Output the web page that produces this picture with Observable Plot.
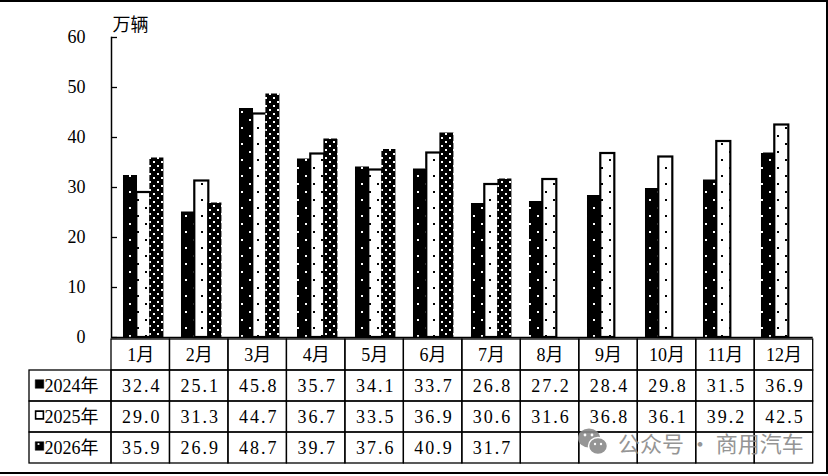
<!DOCTYPE html>
<html><head><meta charset="utf-8">
<script src="https://cdn.jsdelivr.net/npm/d3@7"></script>
<script src="https://cdn.jsdelivr.net/npm/@observablehq/plot@0.6"></script>
<style>
body{margin:0;background:#fff;}
#wrap{position:relative;width:828px;height:476px;overflow:hidden;background:#fff;}
#chart,#table{position:absolute;left:0;}
#chart{top:0;}
#table{top:337px;}
#frame{position:absolute;left:-2px;top:0;width:830px;height:474px;box-sizing:border-box;border:2px solid #000;pointer-events:none;}
#wm{position:absolute;left:577px;top:427px;display:flex;align-items:center;font-family:"Noto Sans CJK SC",sans-serif;font-size:22px;line-height:26px;color:#8a8a8a;opacity:0.9;white-space:nowrap;}
#wm svg{margin-right:9px;}
svg{overflow:visible;}
</style></head><body>
<div id="wrap"><div id="chart"></div><div id="table"></div><div id="frame"></div>
<div id="wm"><svg width="32" height="30" viewBox="0 0 32 30"><ellipse cx="12" cy="11" rx="11" ry="9.5" fill="#8a8a8a"/><ellipse cx="21" cy="19" rx="9.5" ry="8.5" fill="#8a8a8a" stroke="#fff" stroke-width="1.5"/><circle cx="8" cy="8" r="1.4" fill="#fff"/><circle cx="15" cy="8" r="1.4" fill="#fff"/><circle cx="18" cy="17" r="1.2" fill="#fff"/><circle cx="24" cy="17" r="1.2" fill="#fff"/></svg><span>公众号 · 商用汽车</span></div>
</div>
<script>
const months = ["1月","2月","3月","4月","5月","6月","7月","8月","9月","10月","11月","12月"];
const sales2024 = [32.4,25.1,45.8,35.7,34.1,33.7,26.8,27.2,28.4,29.8,31.5,36.9];
const sales2025 = [29.0,31.3,44.7,36.7,33.5,36.9,30.6,31.6,36.8,36.1,39.2,42.5];
const sales2026 = [35.9,26.9,48.7,39.7,37.6,40.9,31.7];
const seriesNames = ["2024年","2025年","2026年"];
const yTicks = [0,10,20,30,40,50,60];
const unitLabel = "万辆";

const W = 828, ML = 111, MR = 15.3;
const bw = (W - ML - MR) / 12;
const barW = 14.5;
const baseInset = (bw - barW) / 2;
const offsets = [-13, 0.3, 13.4];
const FONT = "'Liberation Serif','Noto Sans CJK SC',serif";

const rowsOf = vals => vals.map((v, i) => ({month: months[i], value: v}));

const defs = () => {
  const d = document.createElementNS("http://www.w3.org/2000/svg", "defs");
  d.innerHTML = `
  <pattern id="p24" width="16" height="16" patternUnits="userSpaceOnUse">
    <rect width="16" height="16" fill="#000"/>
    <rect x="1" y="15" width="2" height="2" fill="#fff"/><rect x="1" y="-1" width="2" height="2" fill="#fff"/>
    <rect x="9" y="7" width="2" height="2" fill="#fff"/>
  </pattern>
  <pattern id="p25" width="16" height="16" patternUnits="userSpaceOnUse">
    <rect width="16" height="16" fill="#fff"/>
    <rect x="1" y="15" width="2" height="2" fill="#000"/><rect x="1" y="-1" width="2" height="2" fill="#000"/>
    <rect x="9" y="7" width="2" height="2" fill="#000"/>
  </pattern>
  <pattern id="p26" width="8" height="8" patternUnits="userSpaceOnUse">
    <rect width="8" height="8" fill="#000"/>
    <rect x="1" y="1" width="2" height="2" fill="#fff"/>
    <rect x="5" y="5" width="2" height="2" fill="#fff"/>
  </pattern>`;
  return d;
};

const barOpts = (k, fill, extra = {}) => ({
  x: "month", y: "value", fill,
  insetLeft: baseInset + offsets[k], insetRight: baseInset - offsets[k], ...extra
});

const chart = Plot.plot({
  width: W, height: 345,
  marginTop: 37, marginBottom: 8, marginLeft: ML, marginRight: MR,
  style: {fontFamily: FONT, fontSize: "18px", color: "#000", background: "transparent"},
  x: {type: "band", domain: months, padding: 0, axis: null},
  y: {domain: [0, 60], ticks: yTicks, tickSize: 0, tickPadding: 26, tickFormat: d => String(d), label: null},
  marks: [
    defs,
    Plot.barY(rowsOf(sales2024), barOpts(0, "url(#p24)")),
    Plot.barY(rowsOf(sales2025), barOpts(1, "url(#p25)", {stroke: "#000", strokeWidth: 2.2})),
    Plot.barY(rowsOf(sales2026), barOpts(2, "url(#p26)")),
    Plot.ruleY(yTicks, {insetRight: (W - ML - MR) - 6, stroke: "#000", strokeWidth: 1.3}),
    Plot.frame({anchor: "left", stroke: "#000", strokeWidth: 1.5}),
    Plot.ruleY([0], {stroke: "#000", strokeWidth: 1.5}),
    Plot.text([unitLabel], {text: d => d, frameAnchor: "top-left", dx: 1, dy: -19, textAnchor: "start", fontSize: 18})
  ]
});
document.getElementById("chart").appendChild(chart);

// table below the chart
const legW = 82 / bw;
const cells = [];
months.forEach((m, i) => ["header", ...seriesNames].forEach(r => cells.push({row: r, i})));
const headerTexts = months.map((m, i) => ({row: "header", i, label: m}));
const valueTexts = [];
[sales2024, sales2025, sales2026].forEach((arr, k) =>
  arr.forEach((v, i) => valueTexts.push({row: seriesNames[k], i, label: v.toFixed(1)})));

const table = Plot.plot({
  width: W, height: 128,
  marginTop: 0, marginBottom: 1, marginLeft: 29, marginRight: MR,
  style: {fontFamily: FONT, fontSize: "18px", color: "#000", background: "transparent"},
  x: {type: "linear", domain: [-legW, 12], axis: null},
  y: {type: "band", domain: ["header", ...seriesNames], padding: 0, axis: null},
  marks: [
    Plot.barX(cells, {x1: "i", x2: d => d.i + 1, y: "row", fill: "none", stroke: "#000", strokeWidth: 1.3}),
    Plot.barX(seriesNames, {x1: () => -legW, x2: () => 0, y: d => d, fill: "none", stroke: "#000", strokeWidth: 1.3}),
    Plot.text(headerTexts, {x: d => d.i + 0.5, y: "row", text: "label", fontSize: 18}),
    Plot.text(valueTexts, {x: d => d.i + 0.5, y: "row", text: "label", fontSize: 18, dx: 1}),
    Plot.dot([seriesNames[0]], {x: () => -legW, y: d => d, dx: 10, dy: -2, symbol: "square", r: 4.8, fill: "#000", stroke: "#000", strokeWidth: 0.5}),
    Plot.dot([seriesNames[1]], {x: () => -legW, y: d => d, dx: 10, dy: -2, symbol: "square", r: 4.4, fill: "#fff", stroke: "#000", strokeWidth: 1.6}),
    Plot.dot([seriesNames[2]], {x: () => -legW, y: d => d, dx: 10, dy: -2, symbol: "square", r: 4.8, fill: "#000", stroke: "#000", strokeWidth: 0.5}),
    Plot.dot([seriesNames[2]], {x: () => -legW, y: d => d, dx: 9, dy: -4, symbol: "square", r: 1, fill: "#fff"}),
    Plot.text(seriesNames, {x: () => -legW, y: d => d, text: d => d, dx: 15, textAnchor: "start", fontSize: 18})
  ]
});
table.querySelectorAll("text").forEach(t => { if (/^\d+\.\d$/.test(t.textContent)) t.setAttribute("letter-spacing", "2"); });
document.getElementById("table").appendChild(table);
</script>
</body></html>
